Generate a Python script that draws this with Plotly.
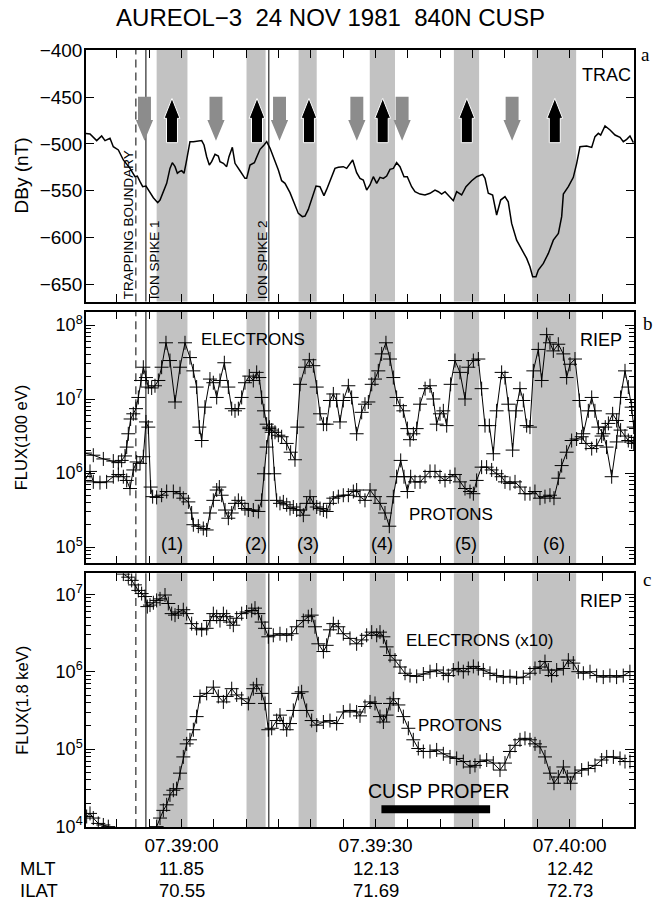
import plotly.graph_objects as go

# ---------------- data (time = seconds after 07:39:00 UT) ----------------
dby_t = [-14.92, -14.14, -13.11, -12.34, -11.82, -11.05, -10.54, -9.76, -8.99, -7.96, -7.19, -6.83, -6.41,
         -6.0, -5.49, -4.97, -4.35, -3.68, -3.32, -2.29, -1.78, -1.42, -1.0, -0.64, -0.33, 0.03, 0.39, 0.70,
         1.31, 1.83, 3.12, 3.48, 3.89, 4.30, 4.66, 5.18, 5.69, 5.95, 6.47, 6.98, 7.34, 7.86, 8.27, 9.04, 9.81,
         10.07, 10.59, 11.26, 11.62, 12.14, 12.76, 13.17, 13.69, 14.19, 14.97, 15.48, 16.0, 16.77, 17.28, 18.06,
         18.68, 19.09, 19.6, 20.12, 20.79, 21.4, 22.02, 22.44, 22.95, 23.72, 24.24, 25.01, 25.53, 26.46, 27.07,
         27.59, 28.1, 28.62, 29.13, 29.65, 30.17, 30.68, 31.2, 31.71, 32.23, 32.75, 33.25, 33.77, 34.39, 34.9,
         35.57, 36.09, 36.86, 37.63, 38.41, 39.18, 39.7, 40.21, 40.73, 41.24, 42.01, 42.53, 43.3, 43.97, 44.85,
         45.62, 46.55, 46.91, 47.42, 48.09, 48.71, 49.33, 50.0, 50.5, 51.03, 51.8, 52.57, 53.35, 53.86, 54.28,
         54.79, 55.15, 55.93, 56.7, 57.47, 58.25, 58.76, 59.02, 59.79, 60.56, 61.08, 61.59, 62.62, 63.4, 63.91,
         64.43, 64.79, 65.46, 66.24, 67.01, 67.78, 68.29, 68.81, 69.32, 69.84]
dby_nT = [-488.6, -489.3, -496.4, -491.4, -496.4, -493.9, -502.9, -506.4, -517.1, -526.1, -535.0, -534.3, -540.3,
          -545.7, -545.0, -551.1, -557.5, -562.8, -560.0, -542.1, -526.1, -520.0, -524.3, -531.4, -529.6, -528.6,
          -531.4, -520.7, -497.5, -497.5, -496.4, -501.1, -513.6, -522.5, -518.9, -511.1, -512.9, -518.9, -520.7,
          -524.3, -513.6, -503.6, -520.7, -528.6, -536.8, -536.8, -522.5, -520.0, -513.6, -505.7, -501.1, -497.5,
          -504.6, -513.6, -527.8, -539.3, -542.1, -552.1, -561.8, -574.3, -577.8, -577.1, -570.0, -558.2, -545.0,
          -545.7, -555.3, -548.6, -540.3, -526.1, -525.0, -524.3, -526.1, -517.1, -530.7, -536.8, -538.6, -549.3,
          -543.9, -535.0, -542.1, -535.7, -536.8, -534.3, -527.1, -526.1, -520.0, -524.3, -535.0, -535.0, -545.7,
          -551.1, -553.6, -554.6, -552.8, -549.3, -551.1, -553.6, -551.1, -554.6, -560.7, -551.1, -554.6, -545.7,
          -539.3, -535.0, -532.5, -536.8, -552.8, -554.6, -576.0, -560.0, -556.4, -561.8, -585.0, -602.9, -613.5,
          -622.5, -631.4, -642.1, -642.1, -635.0, -627.8, -617.1, -602.9, -595.7, -577.8, -553.6, -545.7, -535.7,
          -520.7, -502.9, -502.1, -503.6, -492.1, -488.6, -490.4, -480.7, -485.0, -490.4, -492.9, -497.5, -495.0,
          -491.4, -498.6]

# panel b: FLUX(100 eV)
b_elec_t = [-14.92, -13.63, -12.08, -10.54, -9.76, -9.25, -8.73, -8.47, -8.22, -7.86, -7.45, -7.03, -6.67, -6.26,
            -5.90, -5.49, -5.13, -4.61, -4.10, -3.58, -3.07, -2.40, -1.78, -1.0, -0.23, 0.54, 1.31, 1.83, 2.34, 2.76,
            3.12, 3.63, 4.40, 4.92, 5.44, 5.95, 6.62, 7.24, 7.76, 8.27, 8.79, 9.30, 9.81, 10.48, 11.10, 11.62, 12.03,
            12.39, 12.75, 13.16, 13.58, 13.94, 14.45, 14.97, 15.48, 16.26, 16.87, 17.54, 17.90, 18.32, 19.09, 19.76,
            20.38, 20.90, 21.41, 21.93, 22.44, 22.95, 23.47, 23.98, 24.50, 25.01, 25.79, 26.30, 27.07, 27.85, 28.36,
            28.88, 29.40, 29.91, 30.42, 30.94, 31.60, 32.23, 32.74, 33.25, 33.77, 34.29, 34.91, 35.32, 35.84, 36.35,
            36.87, 37.65, 38.41, 38.93, 39.44, 39.95, 40.47, 40.99, 41.60, 42.27, 43.04, 43.82, 44.33, 45.11, 45.88,
            46.39, 46.91, 47.58, 48.20, 48.71, 49.48, 50.0, 50.51, 51.18, 51.70, 52.31, 52.83, 53.35, 53.86, 54.38,
            55.15, 55.67, 56.44, 56.95, 57.47, 58.24, 59.02, 59.53, 60.05, 60.82, 61.49, 62.11, 62.88, 63.40, 63.90,
            64.43, 65.20, 65.70, 66.49, 67.26, 67.87, 68.55, 69.06, 69.57, 69.90]
b_elec_flux = [1.86e6, 1.74e6, 1.55e6, 1.45e6, 1.38e6, 1.48e6, 1.70e6, 2.24e6, 3.39e6, 5.37e6, 6.31e6, 7.41e6,
               1.05e7, 1.78e7, 2.69e7, 1.95e7, 1.45e7, 1.41e7, 1.51e7, 1.78e7, 2.69e7, 5.75e7, 3.31e7, 9.12e6,
               2.69e7, 5.75e7, 3.63e7, 2.40e7, 1.45e7, 4.17e6, 2.75e6, 7.76e6, 1.86e7, 1.66e7, 1.05e7, 1.78e7,
               3.09e7, 1.45e7, 7.41e6, 6.92e6, 7.41e6, 1.05e7, 1.66e7, 2.04e7, 1.78e7, 2.29e7, 1.95e7, 1.05e7,
               6.92e6, 4.57e6, 3.98e6, 3.80e6, 3.55e6, 3.24e6, 3.09e6, 2.51e6, 1.91e6, 1.51e6, 4.17e6, 1.58e7,
               2.69e7, 3.39e7, 2.82e7, 1.45e7, 6.31e6, 4.57e6, 4.57e6, 9.55e6, 1.17e7, 9.55e6, 4.90e6, 9.55e6,
               1.51e7, 1.05e7, 3.39e6, 6.61e6, 8.51e6, 9.12e6, 1.58e7, 1.86e7, 2.40e7, 4.07e7, 5.75e7, 3.47e7,
               1.95e7, 1.05e7, 8.13e6, 6.92e6, 3.98e6, 2.82e6, 3.39e6, 3.98e6, 8.51e6, 1.38e7, 1.51e7, 1.00e7,
               4.57e6, 6.31e6, 6.92e6, 4.37e6, 1.58e7, 3.31e7, 2.29e7, 1.00e7, 2.69e7, 3.31e7, 3.47e7, 1.38e7,
               4.37e6, 4.37e6, 1.82e6, 6.92e6, 2.29e7, 1.95e7, 8.51e6, 2.04e6, 6.92e6, 1.38e7, 9.55e6, 4.37e6,
               4.17e6, 2.40e7, 4.68e7, 1.78e7, 7.41e7, 5.75e7, 4.47e7, 5.50e7, 4.07e7, 1.95e7, 2.95e7, 3.47e7,
               9.55e6, 3.39e6, 6.92e6, 1.05e7, 6.92e6, 4.17e6, 3.39e6, 2.24e6, 8.91e5, 2.63e6, 1.05e7, 2.40e7,
               1.45e7, 7.76e6, 4.17e6]

b_prot_t = [-14.92, -14.14, -13.63, -12.60, -11.57, -10.54, -9.76, -8.99, -8.47, -7.96, -7.45, -6.93, -6.41, -5.90,
            -5.49, -5.13, -4.77, -4.46, -3.84, -3.07, -2.29, -1.26, -0.23, 0.28, 1.06, 1.57, 1.83, 2.60, 3.37, 3.89,
            4.40, 4.92, 5.44, 5.85, 6.21, 6.73, 7.24, 7.76, 8.27, 8.79, 9.30, 9.81, 10.33, 11.10, 11.88, 12.39, 12.75,
            13.16, 13.58, 13.94, 14.35, 14.71, 15.22, 15.74, 16.26, 16.77, 17.28, 17.80, 18.32, 18.83, 19.35, 19.86,
            20.38, 20.90, 21.41, 21.93, 22.44, 22.95, 23.47, 24.24, 25.01, 25.79, 26.56, 27.07, 27.59, 28.36, 29.14,
            29.91, 30.68, 31.45, 32.12, 32.74, 33.25, 33.88, 34.39, 34.91, 35.42, 36.09, 36.87, 37.64, 38.41, 39.18,
            39.95, 40.73, 41.50, 42.27, 43.04, 43.82, 44.59, 45.11, 45.62, 46.39, 47.16, 47.94, 48.71, 49.48, 50.0,
            50.77, 51.55, 52.32, 53.09, 53.86, 54.63, 55.41, 56.18, 56.95, 57.57, 58.24, 58.76, 59.53, 60.30, 61.07,
            61.85, 62.52, 63.40, 64.17, 64.94, 65.50, 65.98, 66.64, 67.26, 67.87, 68.55, 69.06, 69.57, 69.90]
b_prot_flux = [7.94e5, 1.05e6, 7.59e5, 7.41e5, 7.59e5, 8.91e5, 9.55e5, 8.91e5, 7.94e5, 6.17e5, 1.10e6, 1.41e6,
               1.35e6, 1.66e6, 4.90e6, 4.17e6, 6.46e5, 4.79e5, 4.68e5, 5.01e5, 5.62e5, 5.62e5, 5.25e5, 4.57e5,
               4.07e5, 2.88e5, 2.00e5, 1.91e5, 1.78e5, 1.70e5, 2.88e5, 4.27e5, 5.89e5, 6.46e5, 5.01e5, 3.16e5,
               2.45e5, 2.88e5, 3.89e5, 4.27e5, 3.89e5, 3.31e5, 3.16e5, 3.16e5, 3.02e5, 4.27e5, 9.77e5, 2.24e6,
               4.17e6, 3.55e6, 9.77e5, 4.27e5, 3.89e5, 4.07e5, 3.72e5, 3.31e5, 3.47e5, 3.16e5, 3.16e5, 2.69e5,
               3.89e5, 4.79e5, 3.89e5, 3.47e5, 3.31e5, 3.16e5, 3.02e5, 3.89e5, 4.57e5, 4.79e5, 5.01e5, 5.01e5,
               5.62e5, 5.89e5, 4.79e5, 4.27e5, 5.89e5, 4.79e5, 3.89e5, 2.88e5, 1.91e5, 4.79e5, 8.91e5, 1.48e6,
               8.91e5, 5.62e5, 8.91e5, 7.59e5, 7.59e5, 8.91e5, 1.05e6, 1.05e6, 8.91e5, 7.94e5, 8.91e5, 9.55e5,
               7.59e5, 6.17e5, 5.62e5, 5.25e5, 7.94e5, 1.20e6, 1.20e6, 1.10e6, 9.77e5, 8.91e5, 7.59e5, 7.24e5,
               7.59e5, 6.46e5, 5.25e5, 5.25e5, 5.62e5, 4.57e5, 4.79e5, 5.01e5, 4.57e5, 8.51e5, 1.26e6, 1.91e6,
               2.75e6, 2.88e6, 3.09e6, 2.51e6, 2.14e6, 2.34e6, 3.16e6, 4.17e6, 4.68e6, 6.31e6, 5.13e6, 3.80e6,
               3.16e6, 2.75e6, 2.63e6, 2.51e6]

# panel c: FLUX(1.8 keV)
c_elec_t = [-8.99, -8.22, -7.70, -7.19, -6.67, -6.16, -5.64, -5.28, -4.87, -4.35, -3.84, -3.32, -2.55, -2.04, -1.52,
            -1.0, -0.49, 0.28, 0.80, 1.57, 2.34, 3.12, 3.89, 4.40, 4.92, 5.44, 5.95, 6.47, 6.98, 7.50, 8.01, 8.53,
            9.30, 10.07, 10.85, 11.36, 11.88, 12.39, 12.91, 13.42, 14.19, 15.22, 16.26, 17.03, 17.80, 18.83, 19.60,
            20.12, 20.63, 21.15, 21.93, 22.44, 22.95, 23.47, 24.24, 25.01, 26.04, 27.07, 27.85, 28.62, 29.40, 30.17,
            30.68, 31.20, 31.71, 32.23, 33.0, 33.77, 34.55, 35.32, 36.35, 37.38, 38.41, 39.44, 40.47, 41.24, 42.01,
            42.79, 43.56, 44.33, 45.11, 45.88, 46.65, 47.68, 48.71, 49.74, 50.77, 51.80, 52.83, 53.86, 54.64, 55.41,
            56.18, 56.70, 57.21, 57.99, 59.02, 59.79, 60.56, 61.33, 62.11, 63.14, 64.17, 65.19, 66.22, 67.25, 68.28,
            69.31]
c_elec_x10_flux = [1.82e7, 1.66e7, 1.51e7, 1.32e7, 1.12e7, 1.02e7, 9.33e6, 6.92e6, 7.24e6, 7.76e6, 8.32e6, 8.71e6,
                   9.77e6, 7.59e6, 5.62e6, 5.37e6, 5.89e6, 6.31e6, 5.62e6, 4.17e6, 3.63e6, 3.47e6, 3.63e6, 4.57e6,
                   5.62e6, 5.13e6, 4.57e6, 5.62e6, 5.13e6, 4.37e6, 3.98e6, 4.90e6, 5.62e6, 5.89e6, 6.17e6, 6.61e6,
                   5.62e6, 4.37e6, 3.63e6, 2.82e6, 2.95e6, 3.09e6, 2.95e6, 3.09e6, 3.80e6, 4.57e6, 5.13e6, 5.37e6,
                   3.80e6, 2.29e6, 1.82e6, 2.19e6, 3.47e6, 4.17e6, 3.80e6, 3.09e6, 2.69e6, 2.29e6, 2.57e6, 2.95e6,
                   3.24e6, 2.95e6, 3.24e6, 2.82e6, 2.09e6, 1.62e6, 1.41e6, 1.15e6, 9.55e5, 8.91e5, 8.71e5, 9.33e5,
                   1.00e6, 1.05e6, 9.55e5, 8.91e5, 1.05e6, 1.10e6, 1.00e6, 1.10e6, 1.17e6, 1.10e6, 1.05e6, 9.55e5,
                   8.91e5, 8.51e5, 8.71e5, 8.32e5, 8.51e5, 9.55e5, 1.10e6, 1.15e6, 1.35e6, 1.05e6, 8.91e5, 1.05e6,
                   1.10e6, 1.41e6, 1.29e6, 1.00e6, 9.55e5, 1.00e6, 8.91e5, 8.51e5, 8.91e5, 8.51e5, 8.91e5, 1.00e6]

# protons below 1e4 between the two segments (off scale) -> None
c_prot_t = [-14.66, -14.14, -13.63, -12.86, -12.08, -11.31, None,
            -3.84, -3.32, -2.81, -2.29, -1.78, -1.26, -0.75, -0.23, 0.28, 0.80, 1.31, 1.83, 2.34, 2.86, 3.89, 4.92,
            5.69, 6.47, 6.98, 7.76, 8.53, 9.30, 10.33, 11.10, 11.62, 12.39, 12.91, 13.42, 13.94, 14.71, 15.22, 15.74,
            16.26, 16.77, 17.28, 18.06, 18.57, 19.35, 20.12, 20.90, 21.93, 22.95, 23.98, 25.01, 26.04, 27.07, 27.59,
            28.36, 29.14, 29.91, 30.68, 31.20, 31.71, 32.23, 32.74, 33.52, 34.29, 35.06, 35.83, 36.60, 37.38, 38.41,
            39.44, 40.47, 41.50, 42.53, 43.56, 44.59, 45.36, 46.14, 47.17, 48.19, 49.23, 50.0, 50.77, 51.55, 52.32,
            53.09, 53.86, 54.64, 55.41, 56.18, 56.95, 57.57, 58.24, 59.02, 59.63, 60.15, 60.82, 61.85, 62.88, 63.91,
            64.94, 65.72, 66.75, 67.78, 68.55, 69.32]
c_prot_flux = [1.35e4, 1.48e4, 1.29e4, 1.10e4, 1.05e4, 1.00e4, None,
               1.00e4, 1.29e4, 1.62e4, 1.91e4, 2.57e4, 2.95e4, 3.09e4, 4.90e4, 7.94e4, 1.17e5, 1.32e5, 1.78e5,
               2.63e5, 4.79e5, 5.25e5, 6.31e5, 4.79e5, 4.07e5, 4.79e5, 6.03e5, 5.01e5, 4.47e5, 3.89e5, 6.03e5,
               6.76e5, 5.25e5, 3.89e5, 1.78e5, 1.86e5, 2.34e5, 2.75e5, 2.14e5, 1.78e5, 2.14e5, 3.16e5, 5.25e5,
               5.50e5, 3.16e5, 2.34e5, 2.04e5, 2.24e5, 2.34e5, 2.14e5, 3.02e5, 3.16e5, 3.02e5, 2.69e5, 3.55e5,
               4.07e5, 3.89e5, 2.63e5, 2.24e5, 2.75e5, 3.89e5, 4.47e5, 3.72e5, 2.63e5, 1.86e5, 1.32e5, 1.02e5,
               9.33e4, 9.33e4, 9.77e4, 8.71e4, 7.94e4, 7.59e4, 6.92e4, 5.89e4, 6.17e4, 6.92e4, 7.24e4, 6.61e4,
               5.37e4, 6.61e4, 9.33e4, 1.12e5, 1.32e5, 1.38e5, 1.32e5, 1.17e5, 1.07e5, 7.94e4, 4.90e4, 3.63e4,
               4.37e4, 5.89e4, 4.37e4, 3.63e4, 4.90e4, 5.37e4, 5.62e4, 6.17e4, 7.24e4, 7.94e4, 7.94e4, 7.59e4,
               6.92e4, 6.92e4]

# event markers
band_start = [-3.84, 10.05, 18.1, 29.1, 42.1, 54.2]
band_end = [0.92, 13.0, 20.9, 33.0, 46.0, 61.0]
band_labels = ["(1)", "(2)", "(3)", "(4)", "(5)", "(6)"]
trapping_boundary_t = -7.05
ion_spike_t = [-5.5, 13.5]
ion_spike_labels = ["ION SPIKE 1", "ION SPIKE 2"]
gray_down_arrow_t = [-5.72, 5.33, 15.15, 27.1, 34.1, 51.1]
black_up_arrow_t = [-1.47, 11.67, 19.7, 31.1, 44.1, 57.7]
cusp_proper_interval = [30.9, 47.7]

# time axis labels
label_t = [0, 30, 60]
label_time = ["07.39:00", "07.39:30", "07.40:00"]
mlt_values = ["11.85", "12.13", "12.42"]
ilat_values = ["70.55", "71.69", "72.73"]

# ---------------- figure ----------------
SANS = "Liberation Sans, Arial, Helvetica, sans-serif"
SERIF = "Liberation Serif, Times New Roman, serif"
BAND = "rgb(194,194,194)"
XR = [-14.76, 69.94]

fig = go.Figure()
fig.add_trace(go.Scatter(x=dby_t, y=dby_nT, mode="lines", line=dict(color="black", width=1.5),
                         xaxis="x", yaxis="y", showlegend=False))
mk = dict(symbol="cross-thin", size=10, line=dict(width=1, color="black"), color="black")
for xs, ys, ax, ay in [(b_elec_t, b_elec_flux, "x2", "y2"), (b_prot_t, b_prot_flux, "x2", "y2"),
                       (c_elec_t, c_elec_x10_flux, "x3", "y3"), (c_prot_t, c_prot_flux, "x3", "y3")]:
    fig.add_trace(go.Scatter(x=xs, y=ys, mode="lines+markers", line=dict(color="black", width=1),
                             marker=mk, xaxis=ax, yaxis=ay, showlegend=False, connectgaps=False))

shapes = []
panels = [("x", "y domain"), ("x2", "y2 domain"), ("x3", "y3 domain")]
for xr, yr in panels:
    for s, e in zip(band_start, band_end):
        shapes.append(dict(type="rect", xref=xr, yref=yr, x0=s, x1=e, y0=0, y1=1,
                           fillcolor=BAND, line=dict(width=0), layer="below"))
    shapes.append(dict(type="line", xref=xr, yref=yr, x0=trapping_boundary_t, x1=trapping_boundary_t,
                       y0=0, y1=1, line=dict(color="black", width=1, dash="8px,5px")))
    for t in ion_spike_t:
        shapes.append(dict(type="line", xref=xr, yref=yr, x0=t, x1=t, y0=0, y1=1,
                           line=dict(color="black", width=1)))

# arrows in panel a (geometry in seconds / nT)
for t in gray_down_arrow_t:
    ws, wh = 1.0, 1.33
    top, base, tip = -449.4, -474.3, -496.5
    p = (f"M{t-ws},{top} L{t+ws},{top} L{t+ws},{base} L{t+wh},{base} L{t},{tip} "
         f"L{t-wh},{base} L{t-ws},{base} Z")
    shapes.append(dict(type="path", xref="x", yref="y", path=p, fillcolor="rgb(140,140,140)",
                       line=dict(width=0)))
for t in black_up_arrow_t:
    ws, wh = 0.85, 1.22
    tip, base, bot = -451.1, -472.5, -498.6
    p = (f"M{t-ws},{bot} L{t+ws},{bot} L{t+ws},{base} L{t+wh},{base} L{t},{tip} "
         f"L{t-wh},{base} L{t-ws},{base} Z")
    shapes.append(dict(type="path", xref="x", yref="y", path=p, fillcolor="black",
                       line=dict(width=1, color="white")))

# cusp proper bar
shapes.append(dict(type="rect", xref="x3", yref="y3 domain", x0=cusp_proper_interval[0],
                   x1=cusp_proper_interval[1], y0=0.054, y1=0.086, fillcolor="black", line=dict(width=0)))

ann = []
def txt(text, x, y, xref, yref, size=17, xanchor="center", yanchor="middle", angle=0, family=SANS):
    ann.append(dict(text=text, x=x, y=y, xref=xref, yref=yref, showarrow=False, xanchor=xanchor,
                    yanchor=yanchor, textangle=angle, borderpad=0,
                    font=dict(family=family, size=size, color="black")))

# panel letters and instrument names
txt("a", 1.0215, 0.9936, "paper", "paper", size=19, family=SERIF)
txt("b", 1.026, 0.6486, "paper", "paper", size=19, family=SERIF)
txt("c", 1.024, 0.3179, "paper", "paper", size=19, family=SERIF)
txt("TRAC", 0.996, 0.90, "x domain", "y domain", size=18, xanchor="right")
txt("RIEP", 0.98, 0.8875, "x2 domain", "y2 domain", size=18, xanchor="right")
txt("RIEP", 0.98, 0.8927, "x3 domain", "y3 domain", size=18, xanchor="right")
txt("ELECTRONS", 11.1, 0.8875, "x2", "y2 domain", size=17)
txt("PROTONS", 41.6, 0.192, "x2", "y2 domain", size=17)
for s, e, lab in zip(band_start, band_end, band_labels):
    txt(lab, (s + e) / 2, 0.0767, "x2", "y2 domain", size=18)
txt("ELECTRONS (x10)", 46.0, 0.735, "x3", "y3 domain", size=17)
txt("PROTONS", 43.1, 0.401, "x3", "y3 domain", size=17)
txt("CUSP PROPER", 39.8, 0.1417, "x3", "y3 domain", size=19.5)
txt("TRAPPING BOUNDARY", -8.19, 0.005, "x", "y domain", size=13.5, yanchor="bottom", angle=-90)
txt(ion_spike_labels[0], -4.17, 0.005, "x", "y domain", size=13.5, yanchor="bottom", angle=-90)
txt(ion_spike_labels[1], 12.52, 0.005, "x", "y domain", size=13.5, yanchor="bottom", angle=-90)

# axis titles
txt("DBy (nT)", -0.1173, 0.5, "paper", "y domain", size=19, angle=-90)
txt("FLUX(100 eV)", -0.1173, 0.5, "paper", "y2 domain", size=16.5, angle=-90)
txt("FLUX(1.8 keV)", -0.1173, 0.5, "paper", "y3 domain", size=16.5, angle=-90)

# MLT / ILAT rows
y_mlt, y_ilat = -0.053, -0.0815
txt("MLT", -0.1223, y_mlt, "paper", "paper", size=18.5, xanchor="left")
txt("ILAT", -0.1223, y_ilat, "paper", "paper", size=18.5, xanchor="left")
for t, m, il in zip(label_t, mlt_values, ilat_values):
    txt(m, t, y_mlt, "x3", "paper", size=18.5)
    txt(il, t, y_ilat, "x3", "paper", size=18.5)

xt = list(range(-10, 70, 5))
def xaxis(anchor, labels):
    base = dict(anchor=anchor, domain=[0, 1], range=XR, ticks="inside", ticklen=8, tickwidth=1,
                tickcolor="black", showline=True, linewidth=1.5, linecolor="black", mirror="ticks",
                showgrid=False, zeroline=False, ticklabelstandoff=0,
                tickfont=dict(family=SANS, size=19, color="black"))
    if labels:
        base.update(tickmode="array", tickvals=label_t, ticktext=label_time,
                    minor=dict(tickmode="array", tickvals=[v for v in xt if v not in label_t],
                               ticks="inside", ticklen=8, tickwidth=1, tickcolor="black", showgrid=False))
    else:
        base.update(tickmode="array", tickvals=xt, showticklabels=False)
    return base

ya_vals = [-650, -600, -550, -500, -450, -400]
def logaxis(anchor, domain, rng, majors):
    minors = [m * 10 ** e for e in range(3, 9) for m in range(2, 10)]
    return dict(anchor=anchor, domain=domain, type="log", range=rng, tickmode="array",
                tickvals=[10 ** e for e in majors], ticktext=[f"10<sup>{e}</sup>" for e in majors],
                ticks="inside", ticklen=9, tickwidth=1, tickcolor="black",
                minor=dict(tickmode="array", tickvals=minors, ticks="inside", ticklen=5, tickwidth=1,
                           tickcolor="black", showgrid=False),
                showline=True, linewidth=1.5, linecolor="black", mirror="ticks", showgrid=False,
                zeroline=False, ticklabelstandoff=-2, tickfont=dict(family=SANS, size=18, color="black"))

fig.update_layout(
    width=661, height=903, margin=dict(l=86, r=27, t=50, b=76),
    paper_bgcolor="white", plot_bgcolor="white", showlegend=False,
    title=dict(text="AUREOL\u22123\u00a0\u00a024 NOV 1981\u00a0\u00a0840N CUSP", x=0.5, xref="container",
               xanchor="center", y=1 - 18 / 903, yref="container", yanchor="middle",
               font=dict(family=SANS, size=24, color="black")),
    xaxis=xaxis("y", False), xaxis2=xaxis("y2", False), xaxis3=xaxis("y3", True),
    yaxis=dict(anchor="x", domain=[0.6763, 1], range=[-668.6, -399.4], tickmode="array", tickvals=ya_vals,
               ticktext=[f"\u2212{-v}" for v in ya_vals], ticks="inside", ticklen=8, tickwidth=1,
               tickcolor="black", showline=True, linewidth=1.5, linecolor="black", mirror="ticks",
               showgrid=False, zeroline=False, ticklabelstandoff=-2,
               tickfont=dict(family=SANS, size=19, color="black")),
    yaxis2=logaxis("x2", [0.3394, 0.6632], [4.78, 8.18], [5, 6, 7, 8]),
    yaxis3=logaxis("x3", [0.0, 0.3265], [3.995, 7.27], [4, 5, 6, 7]),
    shapes=shapes, annotations=ann,
)
fig.write_html("out.html", config={"displayModeBar": False},
               post_script="document.body.style.margin='0';document.body.style.overflow='hidden';")
